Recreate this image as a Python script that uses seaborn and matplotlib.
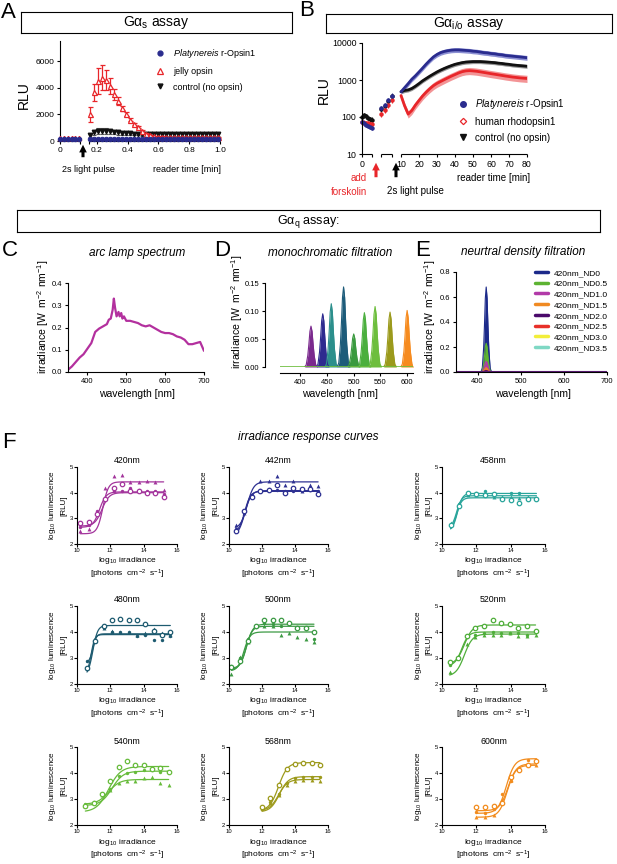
import numpy as np
import matplotlib
matplotlib.use("Agg")
import matplotlib.pyplot as plt
import seaborn as sns
from matplotlib.lines import Line2D
from matplotlib.patches import FancyArrowPatch
from matplotlib.ticker import NullLocator

# ======================= DATA =======================
# ---- Panel A (Gs assay) ----
A_pre_t = [0.0, 0.025, 0.05, 0.075, 0.1, 0.125]
A_pre_blue = [170, 165, 170, 160, 165, 160]
A_pre_red = [210, 200, 205, 195, 200, 205]
A_post_t = [0.155, 0.181, 0.207, 0.233, 0.259, 0.285, 0.311, 0.337, 0.363, 0.389, 0.415,
            0.441, 0.467, 0.493, 0.519, 0.545, 0.571, 0.597, 0.623, 0.649, 0.675, 0.701,
            0.727, 0.753, 0.779, 0.805, 0.831, 0.857, 0.883, 0.909, 0.935, 0.961, 0.987]
A_red = [2000, 3650, 4500, 4750, 4550, 4100, 3500, 3000, 2450, 2000, 1600,
         1280, 1020, 760, 560, 420, 350, 310, 300, 290, 290, 285,
         280, 280, 275, 275, 270, 270, 270, 265, 265, 265, 265]
A_red_err = [550, 650, 1000, 950, 750, 600, 400, 300, 200, 150, 120,
             100, 80, 70, 60, 50, 50, 40, 40, 40, 40, 40,
             40, 40, 40, 40, 40, 40, 40, 40, 40, 40, 40]
A_black = [450, 650, 750, 780, 760, 720, 680, 640, 610, 590, 570,
           560, 550, 540, 530, 530, 520, 520, 515, 510, 510, 505,
           505, 500, 500, 500, 500, 500, 500, 500, 500, 510, 520]
A_black_err = [150, 200, 220, 220, 200, 180, 170, 160, 150, 140, 140,
               130, 130, 130, 130, 130, 130, 130, 130, 130, 130, 130,
               130, 130, 130, 130, 130, 130, 130, 130, 130, 130, 130]
A_blue = [130, 130, 125, 125, 120, 120, 120, 120, 120, 120, 115,
          115, 115, 115, 115, 115, 115, 115, 115, 115, 115, 115,
          115, 115, 115, 115, 115, 115, 115, 115, 115, 115, 115]

# ---- Panel B (Gi/o assay) ----
B_seg1_t = [0, 0.8, 1.6, 2.4, 3.2, 4.0]
B_seg1_blue = [75, 68, 62, 58, 55, 52]
B_seg1_red = [72, 70, 68, 67, 66, 65]
B_seg1_black = [100, 110, 105, 95, 88, 85]
B_seg2_t = [5, 6, 7, 8]
B_seg2_blue = [170, 210, 290, 380]
B_seg2_red = [120, 150, 210, 280]
B_seg2_black = [160, 200, 270, 360]
B_seg3_t = list(range(10, 81, 2))
B_seg3_blue = [480, 620, 800, 1050, 1300, 1650, 2100, 2700, 3400, 4200,
               4900, 5500, 5900, 6200, 6400, 6500, 6500, 6400, 6300, 6200,
               6000, 5900, 5700, 5500, 5400, 5200, 5100, 4900, 4800, 4600,
               4500, 4400, 4300, 4200, 4100, 4000]
B_seg3_red = [380, 200, 120, 150, 210, 280, 370, 470, 580, 700,
              810, 910, 1020, 1140, 1270, 1400, 1550, 1680, 1760, 1790,
              1760, 1720, 1660, 1600, 1540, 1480, 1430, 1380, 1330, 1280,
              1240, 1200, 1170, 1140, 1120, 1100]
B_seg3_black = [480, 520, 540, 590, 680, 800, 950, 1100, 1270, 1450,
                1650, 1850, 2050, 2250, 2450, 2650, 2800, 2950, 3050, 3100,
                3150, 3150, 3150, 3100, 3050, 3000, 2950, 2850, 2800, 2700,
                2650, 2550, 2500, 2450, 2400, 2350]
B_band_frac = [0.15, 0.22, 0.12]  # blue, red, black relative error

# ---- Panel C (arc lamp spectrum) ----
C_wl = [350, 360, 370, 380, 390, 400, 410, 420, 430, 440, 450,
        455, 460, 465, 468, 471, 475, 480, 483, 487, 490, 494,
        500, 510, 520, 530, 540, 550, 560, 570, 580, 590, 600,
        610, 620, 630, 640, 650, 660, 670, 680, 690, 695, 700]
C_irr = [0.01, 0.025, 0.045, 0.065, 0.08, 0.105, 0.13, 0.18, 0.195, 0.205, 0.215,
         0.235, 0.24, 0.28, 0.33, 0.29, 0.25, 0.27, 0.25, 0.265, 0.24, 0.25,
         0.23, 0.23, 0.225, 0.22, 0.21, 0.205, 0.21, 0.2, 0.19, 0.18, 0.175,
         0.175, 0.17, 0.16, 0.155, 0.145, 0.125, 0.125, 0.13, 0.135, 0.115, 0.095]

# ---- Panel D (monochromatic filtration) ----
D_centers = [420, 442, 458, 481, 500, 520, 540, 568, 600]
D_peaks = [0.073, 0.095, 0.113, 0.143, 0.059, 0.097, 0.108, 0.098, 0.101]
D_colors = ['#7B2A8E', '#2E2B8F', '#2C8F8C', '#1D5C7A', '#3A9A3F', '#4BAF3E', '#6DBE3D', '#9B9A1C', '#F68B1F']
D_baseline_wl = [362, 611]
D_baseline_val = [0, 0]
# shared band-pass profile (offset in nm, relative height)
SPEC_OFFS = [-12, -9, -6, -4, -2, 0, 2, 4, 6, 9, 12]
SPEC_SHAPE = [0, 0.05, 0.28, 0.55, 0.87, 1, 0.87, 0.55, 0.28, 0.05, 0]

# ---- Panel E (neutral density filtration) ----
E_labels = ['420nm_ND0', '420nm_ND0.5', '420nm_ND1.0', '420nm_ND1.5',
            '420nm_ND2.0', '420nm_ND2.5', '420nm_ND3.0', '420nm_ND3.5']
E_peaks = [0.68, 0.23, 0.085, 0.035, 0.012, 0.005, 0.002, 0.001]
E_colors = ['#1C2A8A', '#5DB332', '#B23AA8', '#F08A22', '#4B0A6B', '#E8302A', '#F2EE3A', '#7FD8C4']
E_center = 420
E_baseline_wl = [350, 700]
E_baseline_val = [0, 0]

# ---- Panel F (irradiance response curves) ----
F_titles = ['420nm', '442nm', '458nm', '480nm', '500nm', '520nm', '540nm', '568nm', '600nm']
F_colors = ['#A3349C', '#2E3192', '#2AA59B', '#1E5B70', '#3C9A44', '#4FAE3A', '#67BB3B', '#9D9A1C', '#F28C1E']
F_x = [
    [10.2, 10.7, 11.2, 11.7, 12.2, 12.7, 13.2, 13.7, 14.2, 14.7, 15.2],
    [10.4, 10.9, 11.4, 11.9, 12.4, 12.9, 13.4, 13.9, 14.4, 14.9, 15.4],
    [10.5, 11.0, 11.5, 12.0, 12.5, 13.0, 13.5, 14.0, 14.5, 15.0, 15.5],
    [10.6, 11.1, 11.6, 12.1, 12.6, 13.1, 13.6, 14.1, 14.6, 15.1, 15.6],
    [10.15, 10.65, 11.15, 11.65, 12.15, 12.65, 13.15, 13.65, 14.15, 14.65, 15.15],
    [10.45, 10.95, 11.45, 11.95, 12.45, 12.95, 13.45, 13.95, 14.45, 14.95, 15.45],
    [10.5, 11.0, 11.5, 12.0, 12.5, 13.0, 13.5, 14.0, 14.5, 15.0, 15.5],
    [12.0, 12.5, 13.0, 13.5, 14.0, 14.5, 15.0, 15.5],
    [12.0, 12.5, 13.0, 13.5, 14.0, 14.5, 15.0, 15.5],
]
F_open = [
    [2.8, 2.85, 3.15, 3.75, 4.2, 4.35, 4.05, 4.05, 4.0, 4.0, 3.85],
    [2.5, 3.3, 3.85, 4.05, 4.1, 4.3, 4.0, 4.2, 4.15, 4.15, 3.95],
    [2.75, 3.5, 4.0, 3.95, 3.9, 3.95, 3.75, 3.7, 3.6, 3.75, 3.75],
    [2.6, 3.65, 4.25, 4.45, 4.5, 4.45, 4.45, 4.3, 4.05, 3.9, 4.0],
    [2.65, 2.9, 3.65, 4.25, 4.45, 4.45, 4.45, 4.35, 4.15, 4.15, 4.0],
    [2.85, 3.0, 3.85, 4.15, 4.25, 4.45, 4.35, 4.3, 4.15, 4.25, 4.05],
    [2.75, 2.85, 3.2, 3.7, 4.25, 4.45, 4.3, 4.3, 4.15, 4.2, 4.05],
    [2.7, 3.05, 3.55, 4.15, 4.35, 4.4, 4.4, 4.3],
    [2.7, 2.7, 2.75, 2.85, 3.85, 4.1, 4.3, 4.45],
]
F_dot = [
    [2.65, 2.75, 3.3, 3.8, 4.05, 4.05, 4.2, 4.1, 4.05, 4.05, 3.95],
    [2.6, 3.25, 3.9, 4.1, 4.15, 4.1, 4.05, 4.05, 4.1, 4.1, 4.05],
    [2.7, 3.55, 3.95, 4.0, 4.05, 3.9, 3.8, 4.0, 4.0, 3.8, 3.8],
    [2.9, 3.7, 4.2, 4.0, 4.0, 4.0, 3.85, 3.9, 3.7, 3.7, 3.85],
    [2.7, 3.0, 3.75, 4.2, 4.35, 4.3, 4.25, 4.3, 4.2, 4.1, 3.75],
    [2.75, 3.0, 3.8, 3.9, 3.95, 4.0, 3.95, 3.95, 3.95, 3.9, 4.0],
    [2.8, 2.9, 3.2, 3.4, 3.9, 4.0, 4.05, 4.1, 4.1, 4.05, 4.05],
    [2.6, 2.9, 3.2, 3.6, 3.8, 3.85, 3.85, 3.85],
    [2.5, 2.45, 2.6, 3.2, 3.7, 4.2, 4.5, 4.5],
]
F_tri = [
    [2.5, 2.6, 3.2, 4.2, 4.65, 4.7, 4.4, 4.4, 4.45, 4.4, 4.1],
    [2.75, 3.2, 3.9, 4.45, 4.45, 4.65, 4.3, 4.45, 4.05, 4.3, 4.25],
    [2.8, 3.6, 3.9, 3.9, 3.95, 3.85, 3.85, 3.85, 3.8, 3.85, 3.8],
    [2.6, 3.65, 4.15, 4.05, 4.0, 4.0, 3.9, 3.95, 4.1, 3.95, 3.9],
    [2.4, 3.05, 3.6, 4.25, 4.25, 4.25, 3.9, 3.95, 3.8, 3.75, 3.6],
    [2.45, 3.05, 3.55, 3.8, 3.9, 3.9, 3.9, 3.95, 3.85, 3.85, 3.9],
    [2.75, 2.85, 3.15, 3.35, 3.6, 3.7, 3.7, 3.8, 3.85, 3.6, 3.55],
    [2.65, 2.85, 3.15, 3.55, 3.7, 3.75, 3.75, 3.7],
    [2.3, 2.3, 2.4, 2.95, 3.75, 4.15, 4.35, 4.3],
]
# fitted 4-parameter logistic curves: [open, dot, triangle] replicates
F_bottom = [[2.7, 2.65, 2.4], [2.3, 2.45, 2.6], [2.5, 2.5, 2.6], [2.3, 2.8, 2.4], [2.55, 2.6, 2.5],
            [2.75, 2.7, 2.3], [2.5, 2.75, 2.8], [2.55, 2.5, 2.55], [2.55, 2.45, 2.3]]
F_top = [[4.0, 4.03, 4.42], [4.08, 4.05, 4.42], [3.8, 3.97, 3.88], [4.25, 3.93, 3.9], [4.3, 4.22, 4.0],
         [4.27, 4.0, 3.92], [4.25, 4.07, 3.75], [4.4, 3.86, 3.75], [4.35, 4.55, 4.3]]
F_ec50 = [[11.5, 11.35, 11.55], [10.95, 10.95, 11.1], [10.85, 10.9, 10.85], [10.95, 10.95, 10.85],
          [11.05, 11.05, 10.9], [11.3, 11.15, 11.3], [11.9, 12.1, 11.9], [13.0, 13.05, 13.0],
          [13.85, 13.75, 13.8]]
F_hill = [[2.0, 2.2, 2.6], [2.2, 2.5, 2.2], [3.0, 3.0, 3.0], [3.0, 4.0, 4.0], [2.2, 2.4, 2.4],
          [1.8, 2.2, 1.8], [1.2, 1.3, 1.3], [1.6, 1.6, 1.6], [1.8, 1.8, 1.8]]

# ======================= STYLE =======================
W, H = 617, 864
sns.set_theme(style="ticks")
plt.rcParams['font.family'] = ['Liberation Sans', 'DejaVu Sans']
plt.rcParams.update({
    'mathtext.fontset': 'custom',
    'mathtext.rm': 'Liberation Sans',
    'mathtext.it': 'Liberation Sans:italic',
    'mathtext.default': 'regular',
    'axes.edgecolor': 'black', 'axes.linewidth': 0.8,
    'xtick.color': 'black', 'ytick.color': 'black',
    'text.color': 'black', 'axes.labelcolor': 'black',
    'xtick.major.width': 0.8, 'ytick.major.width': 0.8,
    'xtick.major.size': 2.5, 'ytick.major.size': 2.5,
    'xtick.major.pad': 1.5, 'ytick.major.pad': 1.5,
})

BLUE, RED, BLACK = '#2A2C8E', '#E8262A', '#111111'

fig = plt.figure(figsize=(W / 100, H / 100), dpi=100)


def rect(x0, y0, x1, y1):
    return [x0 / W, 1 - y1 / H, (x1 - x0) / W, (y1 - y0) / H]


def fxy(x, y):
    return (x / W, 1 - y / H)


def T(x, y, s, **kw):
    kw.setdefault('ha', 'center')
    kw.setdefault('va', 'center')
    return fig.text(x / W, 1 - y / H, s, **kw)


def piecewise(tb, vb):
    tb = np.asarray(tb, float)
    vb = np.asarray(vb, float)
    return (lambda x: np.interp(x, tb, vb)), (lambda v: np.interp(v, vb, tb))


def title_box(x0, y0, x1, y1, text, fs):
    bx = fig.add_axes(rect(x0, y0, x1, y1))
    bx.set_xticks([])
    bx.set_yticks([])
    for s in bx.spines.values():
        s.set_visible(True)
        s.set_linewidth(0.8)
        s.set_color('black')
    bx.text(0.5, 0.5, text, ha='center', va='center', fontsize=fs, transform=bx.transAxes)


def arrow(x, y_tail, y_tip, color):
    fig.add_artist(FancyArrowPatch(fxy(x, y_tail), fxy(x, y_tip), transform=fig.transFigure,
                                   arrowstyle='simple,head_width=0.55,head_length=0.55,tail_width=0.22',
                                   mutation_scale=10, color=color, lw=0))


def broken_bottom(ax, segs):
    ax.spines['bottom'].set_visible(False)
    for a, b in segs:
        ax.plot([a, b], [0, 0], color='black', lw=0.8, transform=ax.get_xaxis_transform(),
                clip_on=False, solid_capstyle='butt')


# ======================= PANEL A =======================
T(8, 12, 'A', fontsize=16)
title_box(21, 12, 292, 33, 'Gα$_{s}$ assay', 10)
axA = fig.add_axes(rect(60, 41, 220, 141))
fA, iA = piecewise([-1, 0, 0.13, 0.15, 1.0, 2.0], [60 - 154, 60, 80, 89, 220, 220 + 154])
axA.set_xscale('function', functions=(fA, iA))
axA.set_xlim(0, 1.0)
axA.set_ylim(0, 7500)
sns.despine(ax=axA)
broken_bottom(axA, [(0, 0.13), (0.15, 1.0)])
axA.errorbar(A_post_t, A_black, yerr=A_black_err, fmt='v', color=BLACK, ms=3.2, ecolor='#555555',
             elinewidth=0.8, capsize=1.5, capthick=0.8, clip_on=False, zorder=3)
axA.errorbar(A_post_t, A_red, yerr=A_red_err, fmt='^', mfc='white', mec=RED, mew=0.9, ms=3.6,
             ecolor=RED, elinewidth=0.9, capsize=1.8, capthick=0.9, clip_on=False, zorder=4)
axA.plot(A_pre_t, A_pre_red, '^', mfc='white', mec=RED, mew=0.9, ms=3.2, clip_on=False, zorder=4)
sns.lineplot(x=A_pre_t, y=A_pre_blue, ax=axA, color=BLUE, lw=0.8, marker='o', ms=3.2, mec=BLUE,
             estimator=None, sort=False, zorder=5, clip_on=False)
sns.lineplot(x=A_post_t, y=A_blue, ax=axA, color=BLUE, lw=0.8, marker='o', ms=3.2, mec=BLUE,
             estimator=None, sort=False, zorder=5, clip_on=False)
axA.set_xticks([0, 0.13, 0.15, 0.2, 0.4, 0.6, 0.8, 1.0])
axA.set_xticklabels(['0', '', '', '0.2', '0.4', '0.6', '0.8', '1.0'], fontsize=6)
axA.xaxis.set_minor_locator(NullLocator())
axA.set_yticks([0, 2000, 4000, 6000])
axA.set_yticklabels(['0', '2000', '4000', '6000'], fontsize=6)
axA.set_xlabel('')
axA.set_ylabel('')
T(24, 95, 'RLU', fontsize=10, rotation=90)
hA = [Line2D([], [], ls='none', marker='o', color=BLUE, ms=3.5),
      Line2D([], [], ls='none', marker='^', mfc='white', mec=RED, mew=0.9, ms=3.8),
      Line2D([], [], ls='none', marker='v', color=BLACK, ms=3.5)]
axA.legend(hA, [r'$\mathit{Platynereis}$ r-Opsin1', 'jelly opsin', 'control (no opsin)'],
           loc='upper left', bbox_to_anchor=fxy(155, 47), bbox_transform=fig.transFigure,
           frameon=False, fontsize=6.5, handlelength=1.0, handletextpad=1.0, labelspacing=0.75,
           borderpad=0, borderaxespad=0)
arrow(83, 160, 142, 'black')
T(88, 169, '2s light pulse', fontsize=6.5)
T(187, 169, 'reader time [min]', fontsize=6.5)

# ======================= PANEL B =======================
T(307, 11, 'B', fontsize=16)
title_box(326, 14, 612, 33, 'Gα$_{i/o}$ assay', 10)
axB = fig.add_axes(rect(362, 43, 527, 154))
fB, iB = piecewise([-100, 0, 4, 5, 8, 10, 80, 200], [362 - 250, 362, 372, 381, 392, 401, 527, 527 + 216])
axB.set_xscale('function', functions=(fB, iB))
axB.set_yscale('log')
axB.set_xlim(0, 80)
axB.set_ylim(10, 10000)
sns.despine(ax=axB)
broken_bottom(axB, [(0, 4), (5, 8), (10, 80)])
series_B = [(B_seg1_black, B_seg2_black, B_seg3_black, BLACK, '#7a7a7a', B_band_frac[2]),
            (B_seg1_red, B_seg2_red, B_seg3_red, RED, '#F07A7C', B_band_frac[1]),
            (B_seg1_blue, B_seg2_blue, B_seg3_blue, BLUE, '#6F74C8', B_band_frac[0])]
for s1, s2, s3, col, bcol, fr in series_B:
    y3 = np.asarray(s3, float)
    axB.fill_between(B_seg3_t, y3 * (1 - fr), y3 * (1 + fr), color=bcol, lw=0, alpha=0.8)
    sns.lineplot(x=B_seg3_t, y=s3, ax=axB, color=col, lw=2.0, estimator=None, sort=False)
for s1, s2, s3, col, bcol, fr in series_B:
    for tt, yy in [(B_seg1_t, s1), (B_seg2_t, s2)]:
        yy = np.asarray(yy, float)
        axB.errorbar(tt, yy, yerr=[yy * 0.15, yy * 0.15], fmt='o', color=col, ms=2.2,
                     elinewidth=0.8, capsize=0, clip_on=False)
axB.set_xticks([0, 4, 5, 8, 10, 20, 30, 40, 50, 60, 70, 80])
axB.set_xticklabels(['0', '', '', '', '10', '20', '30', '40', '50', '60', '70', '80'], fontsize=6.3)
axB.xaxis.set_minor_locator(NullLocator())
axB.set_yticks([10, 100, 1000, 10000])
axB.set_yticklabels(['10', '100', '1000', '10000'], fontsize=6.3)
axB.yaxis.set_minor_locator(NullLocator())
axB.set_xlabel('')
axB.set_ylabel('')
T(324, 90, 'RLU', fontsize=10, rotation=90)
hB = [Line2D([], [], ls='none', marker='o', color=BLUE, ms=4),
      Line2D([], [], ls='none', marker='D', mfc='white', mec=RED, mew=0.9, ms=3.2),
      Line2D([], [], ls='none', marker='v', color=BLACK, ms=3.8)]
axB.legend(hB, [r'$\mathit{Platynereis}$ r-Opsin1', 'human rhodopsin1', 'control (no opsin)'],
           loc='upper left', bbox_to_anchor=fxy(458, 97), bbox_transform=fig.transFigure,
           frameon=False, fontsize=7, handlelength=1.0, handletextpad=0.75, labelspacing=0.6,
           borderpad=0, borderaxespad=0)
arrow(376, 180, 160, RED)
arrow(396, 180, 160, 'black')
T(367, 178, 'add', fontsize=7, color=RED, ha='right')
T(367, 192, 'forskolin', fontsize=7, color=RED, ha='right')
T(415, 191, '2s light pulse', fontsize=7)
T(494, 178, 'reader time [min]', fontsize=7)

# ======================= Gq header =======================
title_box(17, 210, 600, 232, 'Gα$_{q}$ assay:', 9)

# ======================= PANEL C =======================
IRR = 'irradiance [W  m$^{-2}$ nm$^{-1}$]'
T(10, 250, 'C', fontsize=16)
T(137, 253, 'arc lamp spectrum', fontsize=8.5, style='italic')
axC = fig.add_axes(rect(68, 283, 204, 372))
sns.lineplot(x=C_wl, y=C_irr, ax=axC, color='#B3309E', lw=1.6, estimator=None, sort=False)
axC.set_xlim(350, 700)
axC.set_ylim(0, 0.4)
axC.set_xticks([400, 500, 600, 700])
axC.set_yticks([0.0, 0.1, 0.2, 0.3, 0.4])
axC.set_yticklabels(['0.0', '0.1', '0.2', '0.3', '0.4'])
axC.tick_params(labelsize=5.5)
sns.despine(ax=axC)
axC.set_xlabel('')
axC.set_ylabel('')
T(43, 317, IRR, fontsize=7.5, rotation=90)
T(137, 394, 'wavelength [nm]', fontsize=7.5)

# ======================= PANEL D =======================
T(222, 250, 'D', fontsize=16)
T(330, 253, 'monochromatic filtration', fontsize=8.5, style='italic')
axD = fig.add_axes(rect(280, 283, 413, 367))
for cen, pk, col in zip(D_centers, D_peaks, D_colors):
    xx = [cen + o for o in SPEC_OFFS]
    yy = [pk * s for s in SPEC_SHAPE]
    axD.fill_between(xx, 0, yy, color=col, lw=0)
    sns.lineplot(x=xx, y=yy, ax=axD, color=col, lw=0.8, estimator=None, sort=False)
sns.lineplot(x=D_baseline_wl, y=D_baseline_val, ax=axD, color='#6DBE3D', lw=1.2, estimator=None)
axD.set_xlim(362, 611)
axD.set_ylim(0, 0.15)
axD.set_xticks([400, 450, 500, 550, 600])
axD.set_yticks([0.0, 0.05, 0.10, 0.15])
axD.set_yticklabels(['0.00', '0.05', '0.10', '0.15'])
axD.tick_params(labelsize=5.5)
sns.despine(ax=axD)
axD.spines['left'].set_position(('outward', 10.8))
axD.spines['bottom'].set_position(('outward', 4.3))
axD.set_xlabel('')
axD.set_ylabel('')
T(237, 312, IRR, fontsize=7.5, rotation=90)
T(340, 394, 'wavelength [nm]', fontsize=7.5)

# ======================= PANEL E =======================
T(423, 250, 'E', fontsize=16)
T(523, 252, 'neurtral density filtration', fontsize=8.5, style='italic')
axE = fig.add_axes(rect(456, 272, 607, 372))
for pk, col in zip(E_peaks, E_colors):
    xx = [E_center + o for o in SPEC_OFFS]
    yy = [pk * s for s in SPEC_SHAPE]
    axE.fill_between(xx, 0, yy, color=col, lw=0)
    sns.lineplot(x=xx, y=yy, ax=axE, color=col, lw=0.8, estimator=None, sort=False)
sns.lineplot(x=E_baseline_wl, y=E_baseline_val, ax=axE, color='#5A1B73', lw=1.5, estimator=None)
axE.set_xlim(350, 700)
axE.set_ylim(0, 0.8)
axE.set_xticks([400, 500, 600, 700])
axE.set_yticks([0.0, 0.2, 0.4, 0.6, 0.8])
axE.set_yticklabels(['0.0', '0.2', '0.4', '0.6', '0.8'])
axE.tick_params(labelsize=5.5)
sns.despine(ax=axE)
axE.set_xlabel('')
axE.set_ylabel('')
T(430, 317, IRR, fontsize=7.5, rotation=90)
T(533, 394, 'wavelength [nm]', fontsize=7.5)
hE = [Line2D([], [], color=c, lw=2.5) for c in E_colors]
axE.legend(hE, E_labels, loc='upper left', bbox_to_anchor=fxy(535, 269), bbox_transform=fig.transFigure,
           frameon=False, fontsize=6, handlelength=1.6, handletextpad=0.6, labelspacing=0.35,
           borderpad=0, borderaxespad=0)

# ======================= PANEL F =======================
T(9, 442, 'F', fontsize=16)
T(308, 437, 'irradiance response curves', fontsize=8.5, style='italic')
F_rows = [(467, 544), (606, 684), (747, 825)]
F_cols = [(77, 177), (229, 328), (442, 545)]
for k in range(9):
    r, c = divmod(k, 3)
    y0, y1 = F_rows[r]
    x0, x1 = F_cols[c]
    ax = fig.add_axes(rect(x0, y0, x1, y1))
    col = F_colors[k]
    xs = F_x[k]
    for b, t, e, h in zip(F_bottom[k], F_top[k], F_ec50[k], F_hill[k]):
        xx = np.linspace(xs[0], xs[-1], 120)
        yy = b + (t - b) / (1 + 10 ** ((e - xx) * h))
        sns.lineplot(x=xx, y=yy, ax=ax, color=col, lw=0.9, estimator=None, sort=False)
    ax.plot(xs, F_open[k], ls='none', marker='o', mfc='white', mec=col, ms=3.2, mew=0.9)
    sns.scatterplot(x=xs, y=F_dot[k], ax=ax, color=col, s=6, linewidth=0)
    sns.scatterplot(x=xs, y=F_tri[k], ax=ax, color=col, marker='^', s=8, linewidth=0)
    ax.set_xlim(10, 16)
    ax.set_ylim(2, 5)
    ax.set_xticks([10, 12, 14, 16])
    ax.set_yticks([2, 3, 4, 5])
    ax.tick_params(labelsize=4.2, length=2, pad=1)
    sns.despine(ax=ax)
    ax.set_xlabel('')
    ax.set_ylabel('')
    xc, yc = (x0 + x1) / 2, (y0 + y1) / 2
    T(xc, y0 - 6, F_titles[k], fontsize=6.3)
    T(x0 - 24, yc, 'log$_{10}$ luminescence', fontsize=5.8, rotation=90)
    T(x0 - 13.5, yc, '[RLU]', fontsize=5.8, rotation=90)
    T(xc, y1 + 17, 'log$_{10}$ irradiance', fontsize=6)
    T(xc, y1 + 30.5, '[photons  cm$^{-2}$  s$^{-1}$]', fontsize=6)

fig.savefig('out.png', dpi=100)
